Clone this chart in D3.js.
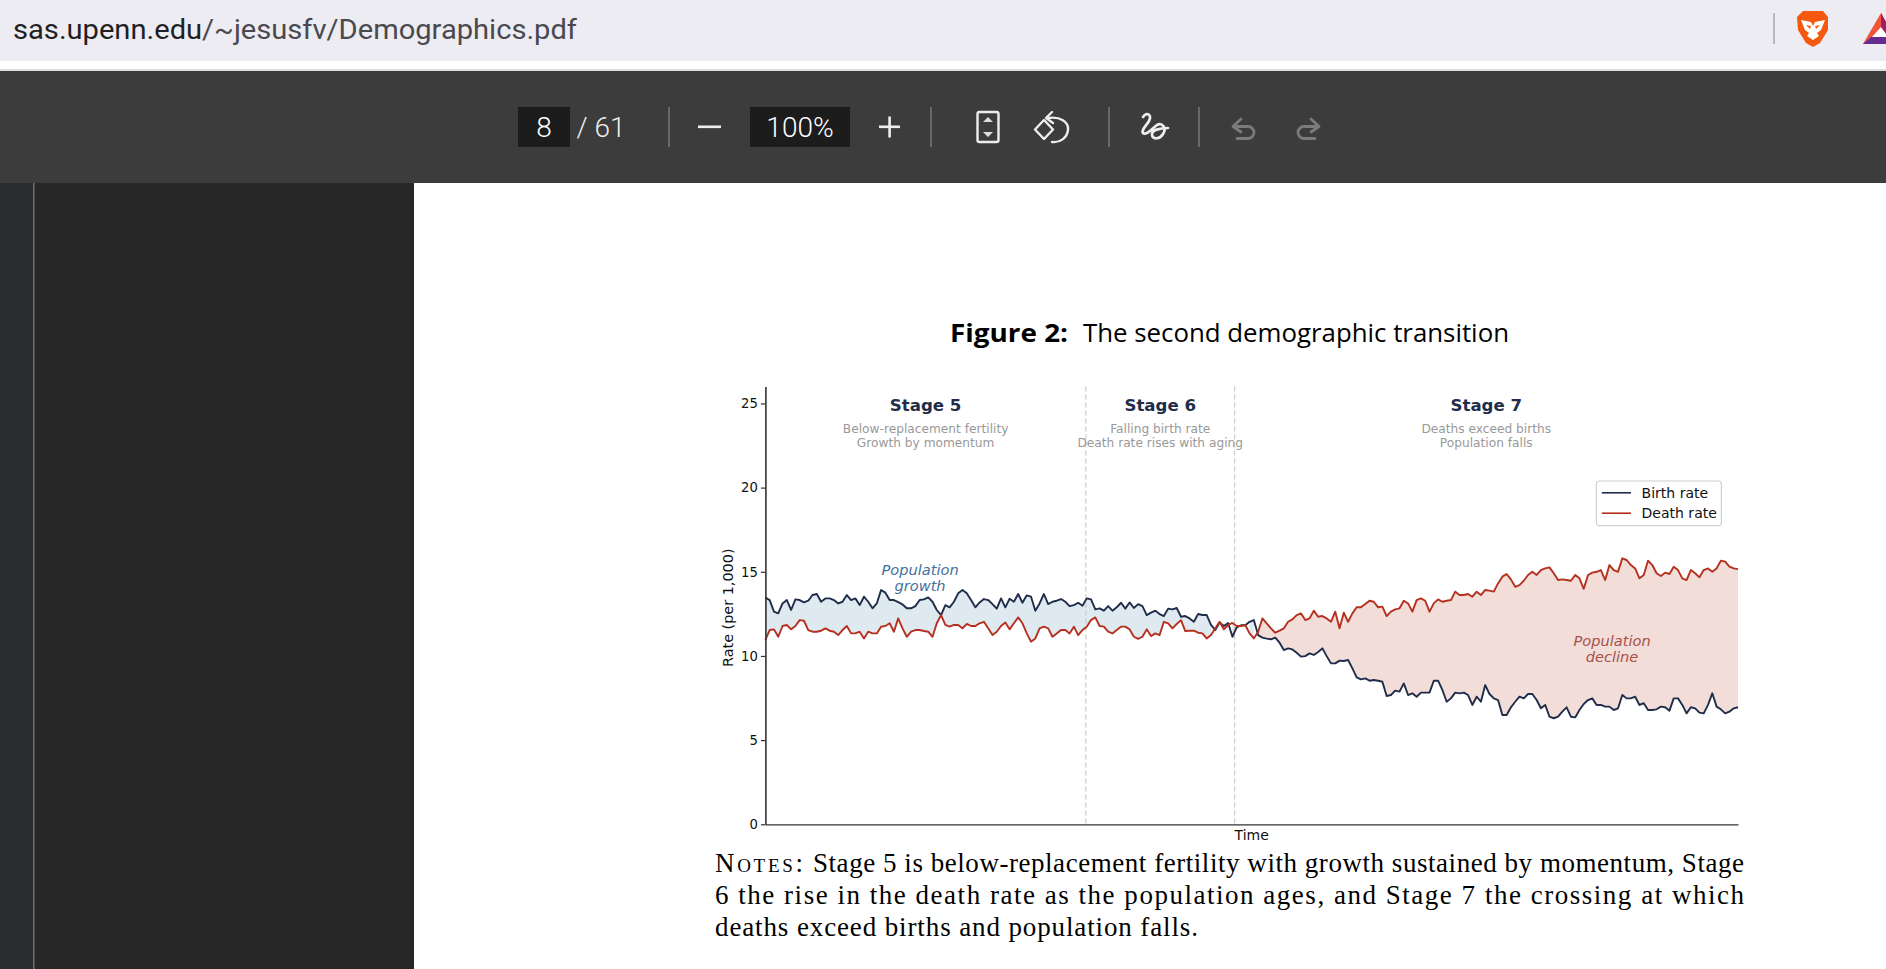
<!DOCTYPE html>
<html>
<head>
<meta charset="utf-8">
<style>
  html, body { margin: 0; padding: 0; background: #fff; overflow: hidden; }
  svg { display: block; }
  svg text { font-family: "DejaVu Sans", sans-serif; }
  .chrome text { font-family: Roboto, sans-serif; }
  .axis text { font-size: 13.2px; fill: #111; }
  .axis path, .axis line { stroke: #333; stroke-width: 1.2px; }
</style>
</head>
<body>
<div id="chart"></div>
<script src="https://cdnjs.cloudflare.com/ajax/libs/d3/7.8.5/d3.min.js"></script>
<script>
// values, one sample per step of the time index
var birthRate = [
  13.46,13.32,12.63,12.53,13.12,13.32,12.73,13.36,13.32,13.18,
  13.28,13.62,13.68,13.22,13.42,13.42,13.32,13.12,13.22,13.62,
  13.32,13.42,13.02,13.52,13.22,12.83,13.12,13.92,13.76,13.32,
  13.32,13.20,13.06,12.83,12.83,12.96,13.32,13.36,13.48,13.22,
  12.73,12.43,13.02,12.89,13.22,13.72,13.92,13.72,13.32,12.89,
  13.18,13.38,13.32,13.08,12.81,13.42,12.89,13.40,13.22,13.68,
  13.16,13.60,13.52,12.69,13.12,13.68,13.08,13.22,13.28,13.38,
  13.22,12.96,13.02,13.16,12.98,13.42,13.36,12.77,12.83,12.69,
  12.96,12.69,12.89,13.16,12.81,13.18,12.85,13.08,12.96,12.43,
  12.57,12.69,12.49,12.37,12.81,12.77,12.85,12.33,12.37,12.23,
  12.03,12.49,12.43,12.43,11.84,11.54,11.99,11.78,11.96,11.14,
  11.70,11.82,11.82,12.03,12.13,11.24,11.09,11.03,10.99,11.09,
  10.79,10.35,10.45,10.39,10.19,9.96,9.99,10.15,10.06,10.23,
  10.45,9.99,9.56,9.56,9.72,9.70,9.76,9.26,8.73,8.61,
  8.67,8.53,8.57,8.53,8.47,7.62,7.68,7.94,7.88,8.37,
  7.68,7.78,7.58,7.82,7.82,7.82,8.53,8.53,7.98,7.28,
  7.48,7.82,7.78,7.82,7.68,7.09,7.58,7.28,8.27,7.74,
  7.48,7.38,6.49,6.49,6.95,7.28,7.58,7.48,7.74,7.74,
  7.38,6.89,7.09,6.39,6.30,6.39,6.69,6.95,6.39,6.35,
  6.79,7.15,7.38,7.48,7.09,7.09,6.99,6.99,6.79,6.89,
  7.68,7.48,7.48,7.58,7.09,7.19,6.79,6.79,6.83,6.99,
  6.95,6.75,7.48,7.48,7.09,6.59,6.95,6.89,6.63,6.59,
  7.09,7.78,6.99,6.83,6.59,6.69,6.89,6.95
];
var deathRate = [
  10.95,11.54,11.58,11.14,11.78,11.84,11.58,11.78,12.13,12.09,
  11.54,11.44,11.44,11.50,11.64,11.50,11.44,11.24,11.54,11.78,
  11.34,11.34,11.44,11.04,11.44,11.34,11.34,11.74,11.78,11.94,
  11.44,12.23,11.64,11.14,11.44,11.54,11.54,11.48,11.44,11.14,
  11.94,12.43,11.84,11.74,11.84,11.84,11.64,11.90,11.78,11.78,
  11.94,12.03,11.64,11.24,11.44,11.78,11.99,11.58,11.94,12.29,
  11.94,11.34,10.85,11.04,11.64,11.74,11.64,11.14,11.34,11.54,
  11.54,11.34,11.74,11.24,11.54,11.74,12.13,12.29,11.78,11.74,
  11.44,11.34,11.54,11.74,11.74,11.58,11.14,11.02,11.14,11.58,
  11.18,11.34,11.24,12.03,11.94,11.64,11.90,12.13,11.48,11.50,
  11.50,11.38,11.34,11.04,11.24,11.64,12.03,11.58,11.84,11.96,
  11.78,11.78,11.84,11.34,11.04,11.44,12.23,11.94,11.64,11.38,
  11.50,11.64,12.03,12.17,12.43,12.53,12.13,12.23,12.69,12.33,
  12.37,12.23,12.03,12.63,11.64,12.57,12.03,12.53,12.89,12.89,
  13.08,13.28,13.22,12.89,12.93,12.37,12.63,12.77,12.83,13.28,
  13.12,12.63,13.32,13.42,13.28,12.63,13.12,13.36,13.22,13.28,
  13.32,13.82,13.62,13.62,13.68,13.52,13.82,13.62,13.92,13.88,
  13.82,14.31,14.71,14.87,14.55,14.11,14.21,14.47,14.81,15.00,
  14.81,15.10,15.20,15.26,14.91,14.51,14.55,14.51,14.47,14.81,
  14.61,13.99,14.81,14.95,15.00,15.10,14.51,15.40,15.10,15.00,
  15.80,15.70,15.40,15.20,14.61,14.81,15.66,15.40,14.91,14.75,
  14.95,14.87,15.30,15.10,14.61,14.51,15.10,14.91,14.67,15.10,
  15.20,15.00,15.20,15.66,15.60,15.30,15.20,15.16
];
var stageNames = ["Stage 5", "Stage 6", "Stage 7"];
var stageNotes = [
  ["Below-replacement fertility", "Growth by momentum"],
  ["Falling birth rate", "Death rate rises with aging"],
  ["Deaths exceed births", "Population falls"]
];
var stageBreaks = [0, 74.8, 109.5, 227];
var yTicks = [0, 5, 10, 15, 20, 25];
var seriesNames = ["Birth rate", "Death rate"];
var seriesColors = ["#1f2d4a", "#b5301f"];

var W = 1886, H = 969;
var svg = d3.select("#chart").append("svg").attr("width", W).attr("height", H);

drawChrome();
drawPageText();

var margin = {top: 386.6, right: W - 1738, bottom: H - 824.3, left: 765.4},
    width = W - margin.left - margin.right,
    height = H - margin.top - margin.bottom;

var g = svg.append("g").attr("transform", "translate(" + margin.left + "," + margin.top + ")");

var xScale = d3.scaleLinear().domain([0, birthRate.length - 1]).range([0, width]);
var yScale = d3.scaleLinear().domain([0, 26]).range([height, 0]);

var rows = birthRate.map(function(b, i) { return {t: i, birth: b, death: deathRate[i]}; });

// gap shading, like fill_between with a where condition
function gap(test) {
  return d3.area()
    .defined(test)
    .x(function(d) { return xScale(d.t); })
    .y0(function(d) { return yScale(d.death); })
    .y1(function(d) { return yScale(d.birth); });
}
g.append("path").datum(rows).attr("fill", "#dfe9f0")
  .attr("d", gap(function(d) { return d.birth >= d.death; }));
g.append("path").datum(rows).attr("fill", "#f2ddd8")
  .attr("d", gap(function(d) { return d.birth < d.death; }));

// stage breaks
g.selectAll(".brk").data(stageBreaks.slice(1, 3)).enter().append("line")
  .attr("class", "brk")
  .attr("x1", function(d) { return xScale(d); })
  .attr("x2", function(d) { return xScale(d); })
  .attr("y1", 0).attr("y2", height)
  .attr("stroke", "#cccccc").attr("stroke-width", 1.2)
  .attr("stroke-dasharray", "5,3");

// stage captions
stageNames.forEach(function(name, i) {
  var cx = xScale((stageBreaks[i] + stageBreaks[i + 1]) / 2);
  g.append("text").attr("x", cx).attr("y", yScale(25) + 8)
    .attr("text-anchor", "middle").attr("font-size", 16.6).attr("font-weight", "bold")
    .attr("fill", "#1f2d4a").text(name);
  stageNotes[i].forEach(function(line, j) {
    g.append("text").attr("x", cx).attr("y", yScale(25) + 30 + j * 13.7)
      .attr("text-anchor", "middle").attr("font-size", 12.2)
      .attr("fill", "#999999").text(line);
  });
});

var lineOf = function(key) {
  return d3.line().x(function(d) { return xScale(d.t); }).y(function(d) { return yScale(d[key]); });
};
g.append("path").datum(rows).attr("fill", "none").attr("stroke", seriesColors[0])
  .attr("stroke-width", 1.9).attr("stroke-linejoin", "round").attr("d", lineOf("birth"));
g.append("path").datum(rows).attr("fill", "none").attr("stroke", seriesColors[1])
  .attr("stroke-width", 1.9).attr("stroke-linejoin", "round").attr("d", lineOf("death"));

// axes
g.append("g").attr("class", "axis")
  .call(d3.axisLeft(yScale).tickValues(yTicks).tickSize(4.5).tickSizeOuter(0).tickPadding(3).tickFormat(d3.format("d")))
  .call(function(a) { a.select("path").attr("stroke", "#555").style("stroke-width", "1.6px"); });
g.append("g").attr("class", "axis").attr("transform", "translate(0," + height + ")")
  .call(d3.axisBottom(xScale).tickValues([]).tickSize(0));

g.append("text").attr("x", width / 2).attr("y", height + 16)
  .attr("text-anchor", "middle").attr("font-size", 14).attr("fill", "#111").text("Time");
g.append("text")
  .attr("transform", "translate(-32.5," + (yScale(10) + 11) + ") rotate(-90)")
  .attr("font-size", 14.4).attr("fill", "#111").attr("text-anchor", "start")
  .text("Rate (per 1,000)");

// annotations
[["Population", "growth"]].forEach(function(t) {
  t.forEach(function(s, j) {
    g.append("text").attr("x", xScale(36.1)).attr("y", yScale(15) + 3 + j * 16)
      .attr("text-anchor", "middle").attr("font-size", 14.6).attr("font-style", "italic")
      .attr("fill", "#44719b").text(s);
  });
});
[["Population", "decline"]].forEach(function(t) {
  t.forEach(function(s, j) {
    g.append("text").attr("x", xScale(197.6)).attr("y", yScale(11) + 7 + j * 16)
      .attr("text-anchor", "middle").attr("font-size", 14.6).attr("font-style", "italic")
      .attr("fill", "#a6534a").text(s);
  });
});

// legend
var legend = g.append("g").attr("transform", "translate(" + (1596.4 - margin.left) + "," + (481 - margin.top) + ")");
legend.append("rect").attr("width", 125).attr("height", 44.7).attr("rx", 3)
  .attr("fill", "#fff").attr("stroke", "#d0d0d0").attr("stroke-width", 1.2);
seriesNames.forEach(function(name, i) {
  var ly = 11.8 + i * 20.4;
  legend.append("line").attr("x1", 5.4).attr("x2", 34.6).attr("y1", ly).attr("y2", ly)
    .attr("stroke", seriesColors[i]).attr("stroke-width", 1.6);
  legend.append("text").attr("x", 45.2).attr("y", ly + 5).attr("font-size", 14)
    .attr("fill", "#111").text(name);
});

function drawPageText() {
  var title = svg.append("g");
  title.append("text").attr("x", 950).attr("y", 342).attr("font-size", 25)
    .attr("font-weight", "bold").attr("textLength", 118).attr("lengthAdjust", "spacingAndGlyphs")
    .style("font-family", "'Open Sans'").attr("fill", "#000").text("Figure 2:");
  title.append("text").attr("x", 1083).attr("y", 342).attr("font-size", 25)
    .attr("textLength", 426).attr("lengthAdjust", "spacingAndGlyphs")
    .style("font-family", "'Open Sans'").attr("fill", "#000").text("The second demographic transition");

  var notes = [
    "Stage 5 is below-replacement fertility with growth sustained by momentum, Stage",
    "6 the rise in the death rate as the population ages, and Stage 7 the crossing at which",
    "deaths exceed births and population falls."
  ];
  var starts = [813, 715, 715], widths = [931, 1029, 483], tops = [872, 904, 936];
  notes.forEach(function(s, i) {
    svg.append("text").attr("x", starts[i]).attr("y", tops[i]).attr("font-size", 27)
      .style("font-family", "'Liberation Serif'").attr("fill", "#000")
      .attr("textLength", widths[i]).attr("lengthAdjust", "spacing").text(s);
  });
  svg.append("text").attr("x", 715).attr("y", tops[0]).attr("font-size", 27)
    .style("font-family", "'Liberation Serif'").style("font-variant", "small-caps")
    .attr("textLength", 88).attr("fill", "#000").text("Notes:");
}

function drawChrome() {
  var c = svg.append("g").attr("class", "chrome");
  function rect(x, y, w, h, f) {
    return c.append("rect").attr("x", x).attr("y", y).attr("width", w).attr("height", h).attr("fill", f);
  }
  function label(x, y, s, size, f, anchor) {
    return c.append("text").attr("x", x).attr("y", y).attr("font-size", size).attr("fill", f)
      .attr("font-weight", 300).attr("text-anchor", anchor || "start").text(s);
  }
  rect(0, 0, W, 61, "#edecf2");
  rect(0, 61, W, 8, "#ffffff");
  rect(0, 69, W, 2, "#dedde2");
  rect(0, 71, W, 112, "#3c3c3c");
  rect(0, 183, 414, H - 183, "#272727");
  rect(0, 183, 33, H - 183, "#2a2b2d");
  rect(33, 183, 1.5, H - 183, "#6e6e6e");

  var url = c.append("text").attr("x", 13).attr("y", 39).attr("font-size", 27.5)
    .attr("textLength", 564).attr("lengthAdjust", "spacingAndGlyphs");
  url.append("tspan").attr("fill", "#1f1f24").text("sas.upenn.edu");
  url.append("tspan").attr("fill", "#4a4950").text("/~jesusfv/Demographics.pdf");

  rect(518, 107, 52, 40, "#1c1c1c");
  rect(750, 107, 100, 40, "#1c1c1c");
  label(544, 137, "8", 28, "#fff", "middle");
  label(582, 137, "/", 28, "#eee", "middle");
  label(610, 137, "61", 28, "#eee", "middle");
  label(800, 137, "100%", 28, "#fff", "middle");
  [669, 931, 1109, 1199].forEach(function(x) { rect(x - 0.75, 107, 1.5, 40, "#777"); });
  rect(698, 125.5, 23, 2.6, "#eee");
  rect(879, 125.5, 21, 2.6, "#eee");
  rect(888.3, 116.5, 2.6, 21, "#eee");

  function stroke(d, col, w) {
    return c.append("path").attr("d", d).attr("fill", "none").attr("stroke", col)
      .attr("stroke-width", w).attr("stroke-linecap", "round").attr("stroke-linejoin", "round");
  }
  // fit-to-page
  c.append("rect").attr("x", 977.5).attr("y", 112).attr("width", 21).attr("height", 30).attr("rx", 2)
    .attr("fill", "none").attr("stroke", "#eee").attr("stroke-width", 2.4);
  c.append("path").attr("d", "M983,122L993,122L988,117Z M983,132L993,132L988,137Z").attr("fill", "#ddd");
  // rotate
  stroke("M1044,120L1053,129.5L1044,139L1035,129.5Z", "#eee", 2.4);
  stroke("M1048,118C1060,116 1069,122 1068,130C1067,138 1060,143 1052,142", "#eee", 2.4);
  stroke("M1052,112L1046,118L1053,123", "#eee", 2.4);
  // draw
  stroke("M1143,117C1147,111 1152,115 1149,121C1146,126 1141,130 1143,133C1146,136 1153,128 1157,125C1162,122 1167,128 1163,134C1160,139 1153,140 1152,135C1151,130 1160,128 1168,128", "#eee", 2.7);
  // undo, redo
  stroke("M1241,119L1233,126.5L1241,132 M1234,126.5L1248,126.5A6,6 0 0 1 1248,138.5L1237,138.5", "#7b7b7b", 2.8);
  stroke("M1311,119L1319,126.5L1311,132 M1318,126.5L1304,126.5A6,6 0 0 0 1304,138.5L1315,138.5", "#7b7b7b", 2.8);

  rect(1773, 13, 2, 31, "#b9b8bd");
  // lion
  c.append("path").attr("d", "M1803,11L1823,11L1828,17L1828,30L1820,43L1813,47L1806,43L1798,30L1797,17Z").attr("fill", "#f4590f");
  c.append("path").attr("d", "M1801,20L1811,22L1813,26L1815,22L1825,20L1821,30L1817,33L1819,36L1813,40L1807,36L1809,33L1805,30Z").attr("fill", "#fff");
  c.append("path").attr("d", "M1806,25L1811,26L1810,29Z M1820,25L1815,26L1816,29Z").attr("fill", "#f4590f");
  // triangle mark
  c.append("path").attr("d", "M1881,13L1863,44L1886,44L1886,22Z").attr("fill", "#f0553a");
  c.append("path").attr("d", "M1881,13L1881,28L1886,36L1886,22Z").attr("fill", "#9e1f63");
  c.append("path").attr("d", "M1863,44L1871,37L1886,37L1886,44Z").attr("fill", "#662d91");
  c.append("path").attr("d", "M1881,27L1872,37L1886,37L1886,34Z").attr("fill", "#fff");
}
</script>
</body>
</html>
